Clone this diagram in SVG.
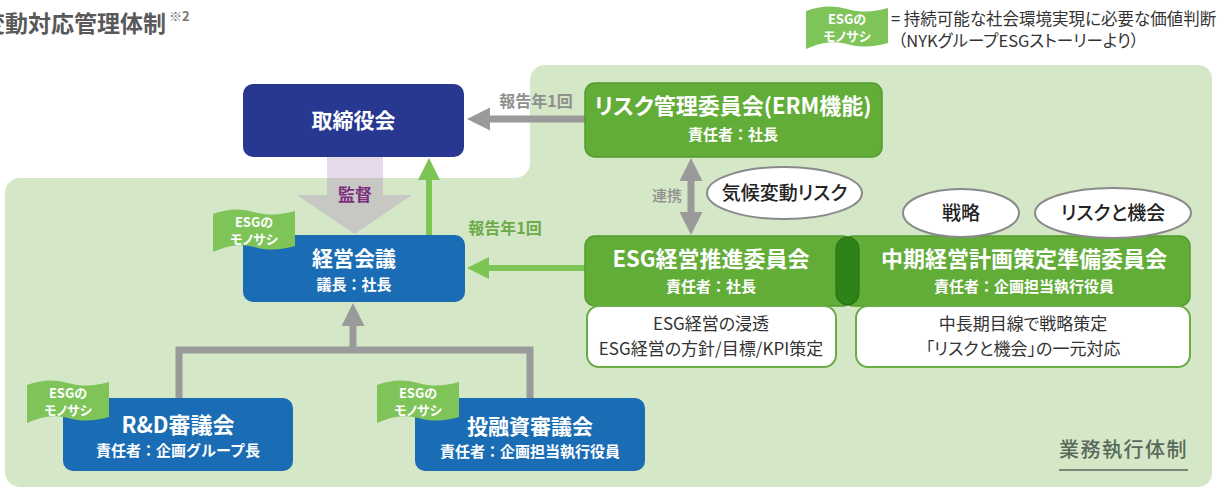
<svg xmlns="http://www.w3.org/2000/svg" width="1218" height="491" viewBox="0 0 1218 491">
<style>
text{font-family:"Noto Sans CJK JP","Noto Sans",sans-serif;font-feature-settings:"palt";}
.w{fill:#fff;font-weight:700;text-anchor:middle}
.t21{font-size:21px}
.t22{font-size:22px}
.s16{font-size:15px;font-feature-settings:normal}
.ft{fill:#fff;font-size:13px;font-weight:700;text-anchor:middle}
.ell{fill:#fff;stroke:#8a8a8a;stroke-width:2}
.ellt{fill:#222;font-size:19px;font-weight:500;text-anchor:middle}
.desc{fill:#fff;stroke:#6aac46;stroke-width:2}
.desct{fill:#333;font-size:17px;text-anchor:middle}
.blue{fill:#1a6db5}
.navy{fill:#283891}
.gbox{fill:#62ad38;stroke:#529b2c;stroke-width:1.5}
.flag{fill:#7ec458}
.gray{stroke:#9a9a9a;stroke-width:7;fill:none}
.green{stroke:#7cc454;stroke-width:6;fill:none}
.lblg{fill:#8f8f8f;font-size:16px;font-weight:700;text-anchor:middle}
</style>
<defs>
<path id="flag" d="M0,6 C14,1 26,0 41,4 C56,8 68,7 82,3 L82,38 C68,42 56,43 41,39 C26,35 14,38 0,44 Z"/>
<marker id="mg" markerUnits="userSpaceOnUse" markerWidth="24" markerHeight="24" viewBox="0 0 24 24" refX="2" refY="12" orient="auto-start-reverse"><path d="M0,0.5 L23,12 L0,23.5 Z" fill="#9a9a9a"/></marker>
<marker id="mgr" markerUnits="userSpaceOnUse" markerWidth="24" markerHeight="24" viewBox="0 0 24 24" refX="2" refY="11" orient="auto"><path d="M0,0 L22,11 L0,22 Z" fill="#7cc454"/></marker>
</defs>

<rect x="0" y="0" width="1218" height="491" fill="#fff"/>
<path d="M20,178 H515 A15,15 0 0 0 530,163 V80 A15,15 0 0 1 545,65 H1198 A14,14 0 0 1 1212,79 V473 A14,14 0 0 1 1198,487 H20 A15,15 0 0 1 5,472 V193 A15,15 0 0 1 20,178 Z" fill="#d4e7c7"/>

<g id="title">
<text x="-18" y="32" font-size="23" font-weight="700" fill="#595959" style="font-feature-settings:normal">変動対応管理体制</text>
<text x="169" y="21" font-size="13" font-weight="700" fill="#777">※2</text>
</g>

<g id="legend">
<use href="#flag" class="flag" transform="translate(806,5)"/>
<text class="ft" x="847" y="24">ESGの</text>
<text class="ft" x="847" y="41">モノサシ</text>
<text x="891" y="25" font-size="16.5" fill="#333">= 持続可能な社会環境実現に必要な価値判断</text>
<text x="898" y="47" font-size="16.5" fill="#333">（NYKグループESGストーリーより）</text>
</g>

<g id="connectors">
<polygon points="327,157 383,157 383,195 412,195 354.5,234 297,195 327,195" fill="#a880b9" fill-opacity="0.3"/>
<text x="355" y="201" font-size="17" font-weight="700" fill="#7d2f7f" text-anchor="middle">監督</text>
<line x1="585" y1="119" x2="488" y2="119" class="gray" marker-end="url(#mg)"/>
<text class="lblg" x="536" y="107">報告年1回</text>
<line x1="691" y1="179" x2="691" y2="214" class="gray" marker-start="url(#mg)" marker-end="url(#mg)"/>
<text x="667" y="201" font-size="15" font-weight="500" fill="#8f8f8f" text-anchor="middle">連携</text>
<line x1="429" y1="235" x2="429" y2="178" class="green" marker-end="url(#mgr)"/>
<line x1="585" y1="268" x2="487" y2="268" class="green" marker-end="url(#mgr)"/>
<text x="505" y="234" font-size="16" font-weight="700" fill="#6cab49" text-anchor="middle">報告年1回</text>
<polyline points="179,398 179,350 530,350 530,398" class="gray"/>
<line x1="353" y1="350" x2="353" y2="324" class="gray" marker-end="url(#mg)"/>
</g>

<g id="board">
<rect x="243" y="84" width="221" height="73" rx="10" class="navy"/>
<text class="w t21" x="353.5" y="128">取締役会</text>
</g>

<g id="risk-committee">
<rect x="585" y="83" width="297" height="74" rx="10" class="gbox"/>
<text class="w t22" x="733" y="114">リスク管理委員会(ERM機能)</text>
<text class="w s16" x="733" y="140">責任者：社長</text>
</g>

<g id="management-meeting">
<rect x="243" y="235" width="222" height="67" rx="10" class="blue"/>
<use href="#flag" class="flag" transform="translate(213,208)"/>
<text class="ft" x="254" y="227">ESGの</text>
<text class="ft" x="254" y="244">モノサシ</text>
<text class="w t21" x="354" y="266">経営会議</text>
<text class="w s16" x="354" y="290">議長：社長</text>
</g>

<g id="esg-committee">
<rect x="585" y="236" width="268" height="70" rx="10" class="gbox"/>
<text class="w t22" x="711" y="267">ESG経営推進委員会</text>
<text class="w s16" x="711" y="292">責任者：社長</text>
<rect x="587" y="306" width="249" height="61" rx="12" class="desc"/>
<text class="desct" x="711" y="330">ESG経営の浸透</text>
<text class="desct" x="711" y="355">ESG経営の方針/目標/KPI策定</text>
</g>

<g id="midterm-committee">
<rect x="843" y="236" width="347" height="70" rx="10" class="gbox"/>
<text class="w t22" x="1024" y="267">中期経営計画策定準備委員会</text>
<text class="w s16" x="1024" y="292">責任者：企画担当執行役員</text>
<rect x="856" y="306" width="334" height="61" rx="12" class="desc"/>
<text class="desct" x="1023" y="330">中長期目線で戦略策定</text>
<text class="desct" x="1023" y="355">「リスクと機会」の一元対応</text>
</g>

<g id="link-pill">
<rect x="836" y="237" width="23" height="68" rx="11.5" fill="#2e8318" stroke="#246d12" stroke-width="1"/>
</g>

<g id="climate-risk">
<ellipse cx="784.5" cy="193" rx="77.5" ry="26" class="ell"/>
<text class="ellt" x="784.5" y="200">気候変動リスク</text>
</g>
<g id="strategy">
<ellipse cx="961" cy="213" rx="58" ry="24" class="ell"/>
<text class="ellt" x="961" y="220">戦略</text>
</g>
<g id="risk-opportunity">
<ellipse cx="1113" cy="213" rx="78" ry="25" class="ell"/>
<text class="ellt" x="1113" y="220">リスクと機会</text>
</g>

<g id="rd-council">
<rect x="63" y="398" width="230" height="73" rx="10" class="blue"/>
<use href="#flag" class="flag" transform="translate(27,379)"/>
<text class="ft" x="68" y="398">ESGの</text>
<text class="ft" x="68" y="415">モノサシ</text>
<text class="w t22" x="178" y="433">R&amp;D審議会</text>
<text class="w s16" x="178" y="456">責任者：企画グループ長</text>
</g>

<g id="investment-council">
<rect x="415" y="398" width="230" height="73" rx="10" class="blue"/>
<use href="#flag" class="flag" transform="translate(377,379)"/>
<text class="ft" x="418" y="398">ESGの</text>
<text class="ft" x="418" y="415">モノサシ</text>
<text class="w t21" x="530" y="434">投融資審議会</text>
<text class="w s16" x="530" y="457">責任者：企画担当執行役員</text>
</g>

<g id="execution-label">
<text x="1059" y="457" font-size="20" font-weight="500" letter-spacing="1.5" fill="#58695a">業務執行体制</text>
<line x1="1059" y1="470" x2="1188" y2="470" stroke="#58695a" stroke-width="1.5"/>
</g>
</svg>
